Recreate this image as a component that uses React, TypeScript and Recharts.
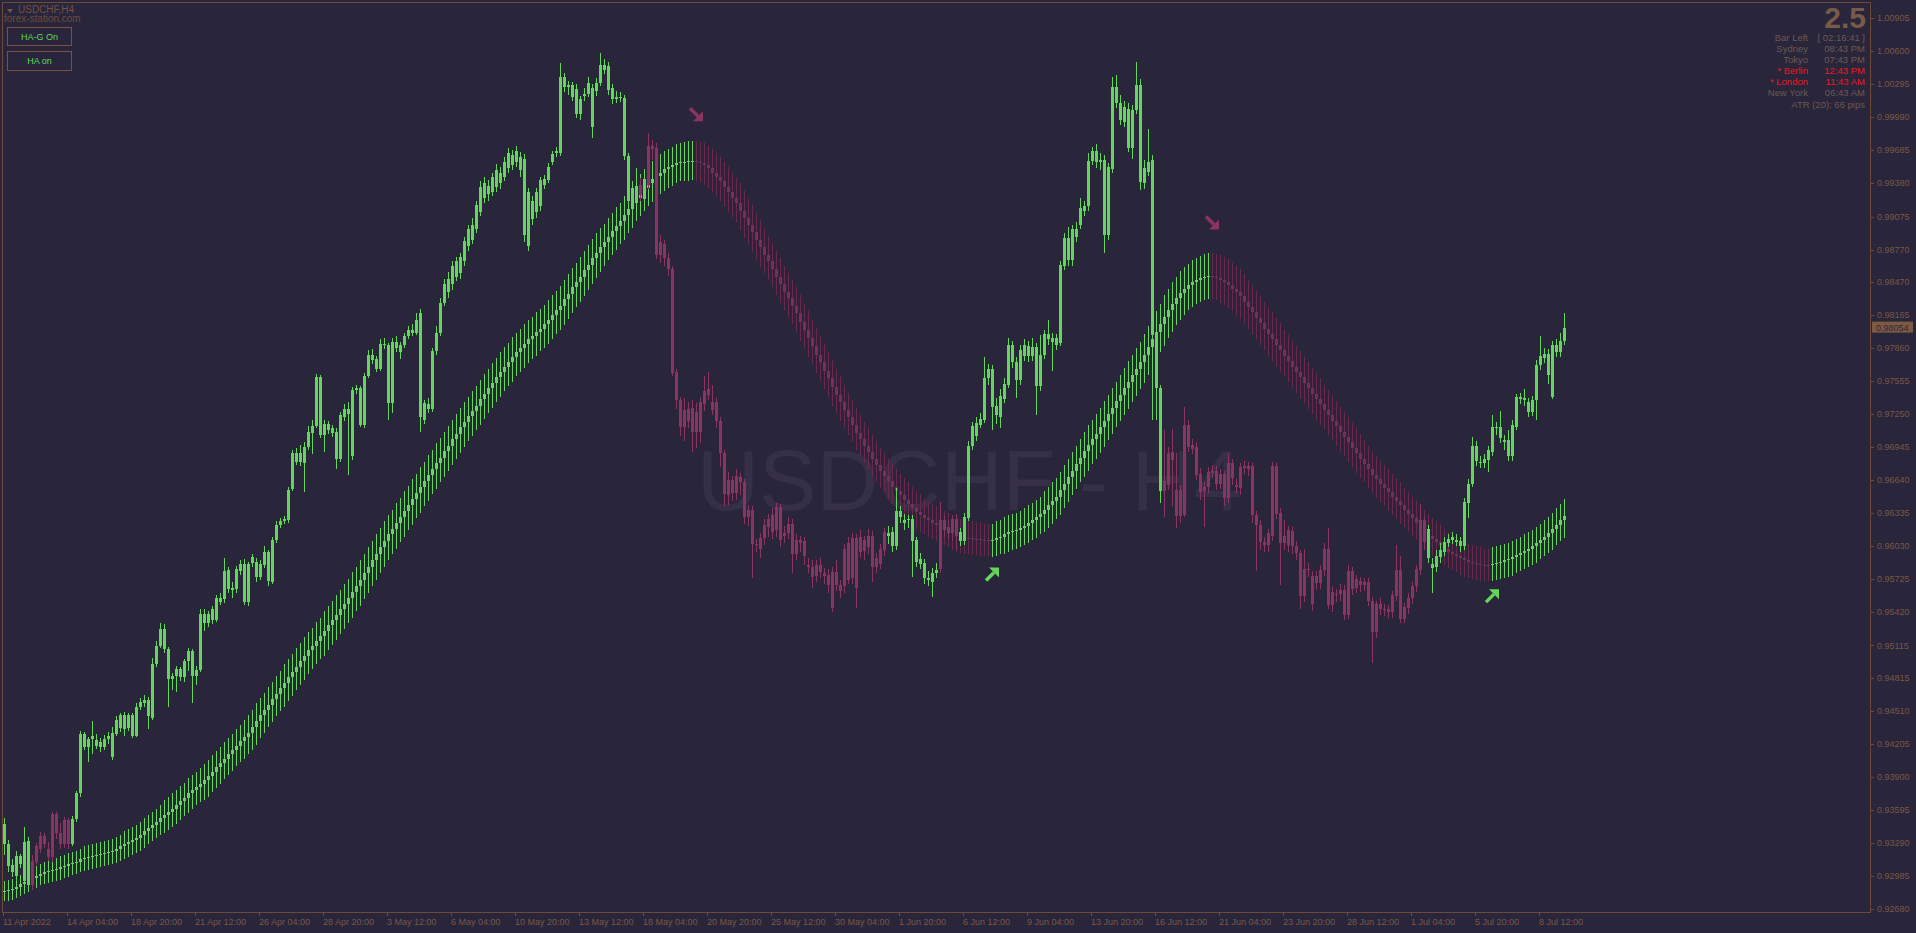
import React from "react";
import { Bar, ComposedChart, ReferenceDot, XAxis, YAxis } from "recharts";

const W = 1916;
const H = 933;
const FONT = '"Liberation Sans", Arial, sans-serif';

const BG = "#29253a";
const GREEN = "#64d65c";
const RED = "#8c3461";
const G_RED = "#7c2c57";
const G_RED_WICK = "#6a284c";
const AXIS = "#6e4a38";
const AXIS_TEXT = "#7a5847";
const PANEL_TEXT = "#6a5a55";
const ALERT = "#ec1a22";

// all prices below are pips above 0.90000
const BASE = 0.9;
const PIP = 0.0001;

// Heikin Ashi price candles
const haOpen = [
  328, 308, 302, 299, 310, 294, 290, 313, 326, 336,
  336, 324, 356, 356, 338, 350, 350, 328, 351, 375,
  418, 418, 425, 419, 418, 418, 425, 409, 430, 435,
  434, 435, 428, 428, 455, 458, 446, 445, 494, 511,
  508, 481, 481, 483, 482, 482, 497, 483, 483, 489,
  532, 532, 535, 535, 552, 554, 564, 563, 564, 580,
  552, 552, 588, 575, 575, 586, 571, 570, 609, 623,
  626, 627, 656, 681, 681, 680, 695, 708, 714, 706,
  706, 710, 708, 684, 684, 722, 725, 686, 747, 715,
  715, 760, 775, 767, 767, 789, 735, 735, 786, 782,
  789, 797, 800, 800, 722, 720, 730, 730, 783, 800,
  828, 838, 845, 852, 855, 866, 880, 886, 896, 912,
  925, 928, 930, 935, 938, 944, 952, 955, 958, 950,
  890, 880, 905, 912, 917, 937, 941, 958, 966, 966,
  1027, 1027, 1018, 1002, 1002, 1019, 1021, 990, 1023, 1031,
  1043, 1024, 1016, 1016, 1017, 963, 922, 920, 925, 937,
  924, 973, 973, 971, 884, 882, 869, 859, 764, 738,
  729, 730, 731, 727, 736, 746, 748, 736, 736, 719,
  689, 664, 664, 668, 667, 662, 637, 637, 605, 611,
  623, 628, 632, 639, 639, 615, 624, 624, 609, 609,
  608, 586, 584, 586, 586, 578, 577, 579, 579, 567,
  601, 606, 611, 611, 612, 609, 613, 613, 592, 601,
  616, 613, 603, 603, 630, 625, 627, 608, 589, 587,
  574, 572, 570, 578, 627, 627, 621, 628, 628, 608,
  608, 629, 696, 705, 715, 720, 758, 732, 724, 722,
  739, 752, 773, 757, 757, 779, 779, 779, 751, 751,
  780, 794, 792, 789, 791, 862, 867, 867, 889, 900,
  913, 917, 959, 958, 958, 890, 890, 951, 1012, 997,
  995, 971, 971, 1006, 939, 938, 949, 798, 749, 654,
  663, 689, 690, 655, 655, 715, 715, 697, 695, 670,
  658, 672, 673, 673, 670, 670, 680, 680, 660, 676,
  677, 677, 677, 632, 623, 607, 615, 677, 677, 634,
  613, 618, 617, 603, 597, 582, 582, 576, 576, 581,
  601, 601, 561, 559, 563, 563, 580, 580, 573, 571,
  570, 570, 553, 550, 550, 545, 545, 558, 581, 581,
  547, 555, 566, 582, 627, 627, 592, 583, 584, 593,
  598, 606, 609, 607, 603, 603, 643, 661, 682, 680,
  680, 683, 690, 712, 703, 699, 686, 686, 713, 739,
  738, 727, 727, 738, 770, 777, 761, 741, 782, 782,
  793,
];

const haHigh = [
  352, 332, 314, 322, 319, 344, 335, 318, 329, 339,
  338, 330, 358, 358, 348, 353, 352, 354, 377, 433,
  432, 427, 442, 430, 426, 429, 432, 436, 446, 449,
  450, 449, 449, 458, 463, 466, 464, 500, 516, 532,
  531, 510, 486, 493, 492, 499, 509, 508, 493, 545,
  545, 543, 548, 558, 560, 592, 584, 570, 585, 590,
  591, 589, 596, 592, 590, 603, 600, 612, 626, 629,
  631, 658, 692, 694, 697, 699, 714, 720, 762, 761,
  720, 719, 715, 712, 727, 734, 736, 750, 752, 751,
  763, 784, 785, 779, 794, 795, 791, 795, 797, 792,
  800, 806, 808, 818, 822, 738, 740, 786, 806, 832,
  850, 856, 866, 870, 874, 889, 900, 906, 922, 940,
  944, 941, 948, 956, 953, 962, 971, 969, 973, 967,
  965, 934, 926, 934, 944, 946, 957, 968, 972, 1049,
  1040, 1033, 1032, 1030, 1019, 1026, 1036, 1030, 1035, 1058,
  1053, 1050, 1030, 1023, 1022, 1020, 966, 940, 952, 943,
  948, 985, 978, 975, 890, 886, 874, 862, 767, 741,
  740, 736, 738, 735, 741, 760, 764, 752, 740, 722,
  692, 672, 668, 674, 671, 665, 641, 640, 610, 615,
  628, 633, 638, 643, 642, 622, 630, 628, 614, 613,
  612, 592, 590, 590, 592, 583, 582, 584, 590, 572,
  605, 612, 615, 614, 618, 613, 619, 617, 597, 605,
  620, 622, 621, 657, 640, 633, 632, 632, 612, 597,
  591, 580, 583, 588, 644, 631, 627, 632, 633, 620,
  634, 700, 718, 722, 726, 778, 771, 770, 740, 748,
  758, 795, 793, 778, 789, 794, 793, 795, 791, 798,
  803, 812, 800, 799, 866, 892, 898, 900, 902, 925,
  922, 966, 972, 974, 966, 964, 957, 1036, 1038, 1020,
  1014, 1012, 1010, 1050, 1034, 960, 988, 964, 802, 752,
  710, 695, 711, 689, 660, 732, 720, 702, 699, 675,
  662, 676, 678, 677, 674, 673, 689, 684, 665, 680,
  682, 681, 680, 636, 627, 612, 619, 681, 680, 638,
  627, 622, 621, 608, 600, 601, 588, 580, 580, 586,
  606, 620, 566, 564, 568, 567, 586, 584, 577, 575,
  574, 574, 556, 553, 555, 550, 549, 562, 604, 594,
  551, 560, 570, 586, 642, 631, 623, 592, 600, 606,
  612, 614, 616, 614, 612, 648, 665, 704, 700, 686,
  688, 696, 724, 718, 728, 706, 710, 720, 744, 745,
  748, 740, 742, 775, 797, 786, 785, 793, 794, 800,
  818,
];

const haLow = [
  318, 302, 298, 296, 306, 291, 288, 286, 309, 320,
  325, 313, 312, 333, 324, 325, 324, 326, 349, 372,
  415, 404, 411, 416, 413, 415, 421, 406, 428, 432,
  428, 433, 426, 427, 452, 455, 434, 443, 492, 509,
  505, 455, 470, 469, 479, 478, 488, 458, 475, 487,
  525, 529, 531, 533, 549, 551, 560, 555, 560, 577,
  549, 548, 584, 570, 572, 583, 566, 568, 606, 620,
  624, 625, 654, 678, 677, 653, 692, 688, 712, 703,
  690, 707, 704, 674, 681, 719, 669, 683, 744, 713,
  712, 758, 771, 764, 765, 785, 720, 726, 782, 776,
  786, 794, 797, 798, 709, 716, 726, 727, 780, 797,
  825, 832, 840, 848, 850, 862, 876, 882, 892, 908,
  920, 922, 926, 930, 933, 940, 948, 950, 953, 944,
  884, 876, 900, 906, 913, 933, 938, 955, 962, 963,
  1022, 1020, 1014, 998, 997, 1014, 1018, 980, 1019, 1028,
  1039, 1020, 1011, 1012, 1013, 960, 918, 915, 921, 922,
  920, 933, 960, 868, 865, 862, 853, 760, 730, 705,
  700, 712, 690, 694, 698, 728, 738, 724, 712, 676,
  640, 641, 645, 646, 650, 624, 622, 574, 598, 592,
  604, 612, 610, 612, 602, 606, 610, 578, 590, 598,
  586, 578, 565, 570, 574, 568, 560, 542, 562, 555,
  560, 568, 568, 546, 592, 590, 596, 570, 578, 582,
  594, 605, 598, 600, 625, 618, 620, 575, 584, 582,
  568, 566, 556, 574, 578, 612, 610, 608, 600, 603,
  604, 626, 692, 700, 712, 717, 752, 710, 716, 712,
  735, 749, 768, 740, 752, 774, 773, 774, 724, 746,
  776, 789, 765, 784, 788, 858, 862, 862, 884, 896,
  908, 913, 955, 952, 950, 874, 886, 948, 1008, 992,
  990, 967, 961, 1002, 932, 933, 945, 720, 720, 643,
  630, 655, 640, 620, 625, 630, 690, 688, 664, 646,
  621, 652, 666, 655, 656, 640, 643, 660, 652, 650,
  670, 668, 625, 580, 600, 598, 598, 608, 628, 567,
  600, 598, 596, 590, 545, 552, 575, 543, 563, 564,
  576, 545, 542, 552, 553, 535, 536, 558, 560, 561,
  562, 548, 495, 518, 540, 539, 537, 537, 553, 532,
  532, 541, 550, 561, 577, 600, 588, 560, 579, 588,
  594, 602, 605, 603, 598, 600, 629, 658, 677, 675,
  675, 672, 686, 706, 698, 692, 682, 682, 710, 734,
  733, 722, 723, 720, 766, 772, 753, 739, 778, 778,
  789,
];

const haClose = [
  347, 328, 309, 317, 317, 330, 331, 290, 312, 324,
  328, 316, 316, 338, 328, 328, 328, 351, 375, 430,
  430, 425, 428, 424, 422, 425, 428, 431, 443, 447,
  447, 447, 447, 455, 459, 461, 461, 494, 511, 527,
  527, 508, 483, 490, 490, 497, 506, 506, 489, 541,
  541, 541, 545, 555, 555, 580, 581, 565, 582, 587,
  587, 587, 593, 589, 587, 598, 598, 609, 623, 626,
  628, 655, 689, 689, 689, 695, 709, 714, 759, 759,
  716, 716, 712, 709, 724, 730, 730, 747, 749, 749,
  760, 780, 780, 776, 790, 790, 789, 792, 792, 789,
  797, 803, 803, 812, 818, 735, 734, 783, 800, 828,
  845, 850, 862, 866, 870, 885, 896, 900, 918, 935,
  938, 936, 944, 950, 948, 958, 966, 964, 968, 962,
  961, 930, 922, 930, 941, 942, 953, 965, 968, 1036,
  1036, 1029, 1029, 1025, 1016, 1021, 1031, 1026, 1031, 1047,
  1047, 1046, 1026, 1018, 1018, 1017, 963, 934, 936, 927,
  942, 937, 970, 872, 872, 869, 859, 763, 738, 713,
  713, 719, 709, 709, 709, 734, 743, 729, 719, 689,
  651, 650, 652, 652, 662, 630, 630, 605, 604, 601,
  611, 621, 616, 618, 609, 613, 615, 596, 596, 606,
  594, 584, 575, 576, 579, 576, 567, 546, 567, 562,
  566, 572, 574, 565, 598, 599, 602, 584, 584, 587,
  600, 615, 616, 636, 636, 627, 628, 628, 609, 591,
  588, 574, 578, 581, 582, 618, 615, 615, 613, 616,
  630, 696, 714, 717, 721, 758, 767, 767, 733, 742,
  753, 789, 789, 773, 784, 789, 788, 787, 787, 780,
  799, 799, 795, 795, 863, 888, 888, 896, 896, 915,
  917, 959, 968, 968, 960, 960, 953, 1027, 1027, 1012,
  1009, 1007, 1006, 1029, 1029, 952, 958, 960, 798, 749,
  654, 660, 683, 631, 631, 632, 695, 693, 669, 653,
  654, 658, 671, 661, 661, 648, 648, 666, 658, 657,
  675, 674, 632, 623, 607, 604, 604, 613, 633, 606,
  606, 604, 603, 597, 557, 557, 581, 550, 569, 569,
  581, 549, 549, 558, 559, 540, 540, 564, 565, 567,
  567, 553, 524, 524, 545, 544, 542, 542, 557, 536,
  536, 546, 555, 566, 581, 607, 619, 587, 594, 600,
  607, 610, 612, 609, 608, 644, 661, 696, 696, 681,
  684, 692, 713, 713, 713, 701, 701, 715, 741, 741,
  740, 736, 738, 770, 779, 781, 781, 789, 789, 793,
  805,
];

// HA-G smoothed candles: close of each bar (body runs from the previous close)
const gClose = [
  285, 286, 287, 289, 291, 293, 295, 297, 299, 301,
  302, 303, 304, 305, 307, 308, 310, 311, 312, 314,
  315, 316, 317, 318, 319, 320, 321, 322, 324, 326,
  328, 330, 332, 334, 337, 340, 343, 346, 349, 352,
  355, 358, 361, 364, 368, 371, 375, 378, 381, 384,
  387, 391, 395, 399, 403, 407, 411, 415, 419, 423,
  427, 431, 436, 442, 447, 452, 457, 462, 467, 472,
  477, 482, 487, 492, 497, 502, 507, 511, 516, 520,
  525, 530, 535, 540, 545, 550, 555, 561, 566, 572,
  578, 584, 590, 596, 602, 608, 614, 619, 625, 630,
  636, 641, 647, 652, 658, 663, 669, 674, 680, 685,
  691, 696, 702, 707, 713, 718, 723, 728, 733, 739,
  744, 749, 754, 759, 764, 769, 773, 778, 782, 786,
  790, 794, 797, 801, 804, 808, 812, 817, 821, 825,
  831, 836, 842, 847, 852, 858, 863, 869, 874, 879,
  884, 889, 894, 899, 903, 909, 914, 920, 925, 930,
  934, 938, 942, 945, 948, 951, 953, 955, 957, 958,
  958, 959, 959, 958, 957, 955, 952, 948, 944, 940,
  935, 930, 925, 920, 913, 906, 900, 893, 886, 879,
  872, 866, 859, 852, 845, 838, 832, 825, 818, 810,
  803, 795, 788, 780, 773, 765, 758, 750, 743, 736,
  729, 722, 715, 708, 702, 696, 690, 684, 678, 673,
  668, 663, 658, 654, 650, 646, 642, 638, 635, 632,
  629, 627, 625, 623, 621, 619, 617, 615, 613, 612,
  611, 611, 610, 610, 609, 609, 608, 609, 611, 612,
  614, 616, 617, 618, 620, 622, 625, 627, 630, 633,
  637, 641, 645, 649, 655, 661, 667, 673, 679, 685,
  691, 697, 702, 707, 713, 719, 725, 731, 737, 743,
  749, 755, 761, 767, 773, 780, 787, 794, 801, 808,
  815, 821, 827, 832, 837, 841, 844, 847, 849, 851,
  852, 853, 852, 851, 849, 847, 844, 841, 838, 834,
  829, 824, 819, 814, 809, 804, 799, 794, 789, 784,
  779, 774, 769, 764, 759, 754, 749, 744, 739, 734,
  729, 724, 719, 714, 709, 704, 699, 694, 689, 684,
  679, 674, 669, 665, 661, 657, 653, 649, 645, 641,
  637, 633, 629, 625, 621, 617, 613, 610, 607, 604,
  601, 598, 596, 594, 592, 590, 589, 588, 587, 586,
  586, 586, 587, 588, 589, 590, 591, 593, 595, 597,
  599, 601, 603, 606, 609, 612, 615, 619, 623, 627,
  631,
];

// HA-G wick length beyond the body, one value per block of 10 bars
const gWick = [
  9, 10, 11, 12, 14, 15, 16, 17, 18, 18,
  18, 18, 18, 18, 18, 17, 17, 18, 18, 17,
  17, 16, 16, 15, 15, 16, 17, 18, 19, 20,
  21, 20, 19, 18, 17, 16, 15, 15, 15, 16,
];

const xLabels = [
  "11 Apr 2022", "14 Apr 04:00", "18 Apr 20:00", "21 Apr 12:00", "26 Apr 04:00",
  "28 Apr 20:00", "3 May 12:00", "6 May 04:00", "10 May 20:00", "13 May 12:00",
  "18 May 04:00", "20 May 20:00", "25 May 12:00", "30 May 04:00", "1 Jun 20:00",
  "6 Jun 12:00", "9 Jun 04:00", "13 Jun 20:00", "16 Jun 12:00", "21 Jun 04:00",
  "23 Jun 20:00", "28 Jun 12:00", "1 Jul 04:00", "5 Jul 20:00", "8 Jul 12:00",
];
const BARS_PER_LABEL = 16;

const yTicks = [
  1.00905, 1.006, 1.00295, 0.9999, 0.99685, 0.9938, 0.99075, 0.9877, 0.9847,
  0.98165, 0.9786, 0.97555, 0.9725, 0.96945, 0.9664, 0.96335, 0.9603, 0.95725,
  0.9542, 0.95115, 0.94815, 0.9451, 0.94205, 0.939, 0.93595, 0.9329, 0.92985,
  0.9268,
];
const lastPrice = 0.98054;

// signal arrows of the HA-G indicator
const arrowBar = [173, 302, 247, 372];
const arrowPips = [1001, 901, 578, 558];
const arrowUp = [false, false, true, true];

const SLOTS = 467;
const toPrice = (v: number) => BASE + v * PIP;

type Row = {
  i: number;
  o?: number;
  h?: number;
  l?: number;
  c?: number;
  go?: number;
  gc?: number;
  gh?: number;
  gl?: number;
  gUp?: boolean;
  lo?: number;
  hi?: number;
};

const rows: Row[] = [];
let rising = true;
for (let i = 0; i < SLOTS; i++) {
  if (i >= haClose.length) {
    rows.push({ i });
    continue;
  }
  const gc = gClose[i];
  const go = i > 0 ? gClose[i - 1] : gClose[0];
  if (gc > go) rising = true;
  else if (gc < go) rising = false;
  const w = gWick[Math.floor(i / 10)];
  const gh = Math.max(go, gc) + w;
  const gl = Math.min(go, gc) - w;
  rows.push({
    i,
    o: toPrice(haOpen[i]),
    h: toPrice(haHigh[i]),
    l: toPrice(haLow[i]),
    c: toPrice(haClose[i]),
    go: toPrice(go),
    gc: toPrice(gc),
    gh: toPrice(gh),
    gl: toPrice(gl),
    gUp: rising,
    lo: toPrice(Math.min(haLow[i], gl)),
    hi: toPrice(Math.max(haHigh[i], gh)),
  });
}

const xTicks = xLabels.map((_, k) => k * BARS_PER_LABEL);

function Candles(props: any) {
  const { x, y, width, height, payload } = props;
  if (!payload || payload.c === undefined) return null;
  const top = Math.min(y, y + height);
  const span = Math.abs(height);
  const { hi, lo } = payload;
  const py = (v: number) => top + ((hi - v) / (hi - lo)) * span;
  const cx = Math.round(x + width / 2);

  const gTop = py(Math.max(payload.go, payload.gc));
  const gBot = py(Math.min(payload.go, payload.gc));
  const gBody = payload.gUp ? GREEN : G_RED;
  const gStick = payload.gUp ? GREEN : G_RED_WICK;

  const col = payload.c >= payload.o ? GREEN : RED;
  const bTop = py(Math.max(payload.o, payload.c));
  const bBot = py(Math.min(payload.o, payload.c));

  return (
    <g shapeRendering="crispEdges">
      <rect x={cx} y={py(payload.gh)} width={1} height={py(payload.gl) - py(payload.gh)} fill={gStick} />
      <rect x={cx - 1} y={gTop} width={3} height={Math.max(1, gBot - gTop)} fill={gBody} />
      <rect x={cx} y={py(payload.h)} width={1} height={py(payload.l) - py(payload.h)} fill={col} />
      <rect x={cx - 1} y={bTop} width={3} height={Math.max(1, bBot - bTop)} fill={col} />
    </g>
  );
}

function XTick(props: any) {
  const { x, payload } = props;
  const label = xLabels[Math.round(payload.value / BARS_PER_LABEL)];
  return (
    <g>
      <rect x={Math.round(x) - 1} y={912} width={1} height={4} fill={AXIS} shapeRendering="crispEdges" />
      <text x={Math.round(x) - 1} y={925} fontSize={9} fontFamily={FONT} fill={AXIS_TEXT}>
        {label}
      </text>
    </g>
  );
}

function YTick(props: any) {
  const { y, payload } = props;
  const v = payload.value as number;
  if (Math.abs(v - lastPrice) < 1e-7) {
    return (
      <g>
        <rect x={1872} y={y - 5.5} width={41} height={11} fill="#7d5a44" />
        <text x={1876} y={y + 3.5} fontSize={9} fontFamily={FONT} fill="#2f2632">
          {v.toFixed(5)}
        </text>
      </g>
    );
  }
  return (
    <g>
      <rect x={1871} y={Math.round(y)} width={3} height={1} fill={AXIS} shapeRendering="crispEdges" />
      <text x={1877} y={y + 3} fontSize={9} fontFamily={FONT} fill={AXIS_TEXT}>
        {v.toFixed(5)}
      </text>
    </g>
  );
}

function Arrow({ cx, cy, up }: { cx?: number; cy?: number; up: boolean }) {
  if (cx === undefined || cy === undefined) return null;
  const s = up ? -1 : 1;
  const col = up ? GREEN : RED;
  return (
    <g transform={`translate(${cx},${cy})`}>
      <line x1={-6} y1={-7 * s} x2={2} y2={1 * s} stroke={col} strokeWidth={3.5} />
      <polygon points={`7,${6 * s} -3,${6 * s} 7,${-4 * s}`} fill={col} />
    </g>
  );
}

const infoRows = [
  { name: "Bar Left", value: "[ 02:16:41 ]", alert: false },
  { name: "Sydney", value: "08:43 PM", alert: false },
  { name: "Tokyo", value: "07:43 PM", alert: false },
  { name: "* Berlin", value: "12:43 PM", alert: true },
  { name: "* London", value: "11:43 AM", alert: true },
  { name: "New York", value: "06:43 AM", alert: false },
];

export default function App() {
  return (
    <div
      style={{
        position: "absolute",
        left: 0,
        top: 0,
        width: W,
        height: H,
        background: BG,
        overflow: "hidden",
        fontFamily: FONT,
      }}
    >
      <svg width={W} height={H} style={{ position: "absolute", left: 0, top: 0 }}>
        <text x={697} y={510} fontSize={86} fontFamily={FONT} fill="#353047">
          USDCHF - H4
        </text>
      </svg>

      <div style={{ position: "absolute", left: 0, top: 0 }}>
        <ComposedChart
          width={W}
          height={H}
          data={rows}
          margin={{ top: 2, right: 0, bottom: 0, left: 2 }}
          barCategoryGap={0}
          barGap={0}
        >
          <XAxis
            dataKey="i"
            type="category"
            ticks={xTicks}
            interval={0}
            height={21}
            axisLine={false}
            tickLine={false}
            tick={<XTick />}
          />
          <YAxis
            orientation="right"
            width={46}
            domain={[0.92655, 1.01055]}
            allowDataOverflow
            ticks={[...yTicks, lastPrice]}
            interval={0}
            axisLine={false}
            tickLine={false}
            tick={<YTick />}
          />
          <Bar
            dataKey={(d: Row) => (d.c === undefined ? null : [d.lo, d.hi])}
            shape={<Candles />}
            isAnimationActive={false}
          />
          {arrowBar.map((b, k) => (
            <ReferenceDot
              key={k}
              x={b}
              y={toPrice(arrowPips[k])}
              r={0}
              ifOverflow="visible"
              shape={(p: any) => <Arrow cx={p.cx} cy={p.cy} up={arrowUp[k]} />}
            />
          ))}
        </ComposedChart>
      </div>

      <svg width={W} height={H} style={{ position: "absolute", left: 0, top: 0, pointerEvents: "none" }} shapeRendering="crispEdges">
        <rect x={2} y={2} width={1} height={911} fill={AXIS} />
        <rect x={2} y={2} width={1869} height={1} fill={AXIS} />
        <rect x={1870} y={2} width={1} height={911} fill={AXIS} />
        <rect x={2} y={912} width={1869} height={1} fill={AXIS} />
        <polygon points="7,9 13,9 10,13" fill="#7a5444" shapeRendering="auto" />
      </svg>

      <div style={{ position: "absolute", left: 18, top: 4, fontSize: 10, color: "#735244", lineHeight: "12px" }}>
        USDCHF,H4
      </div>
      <div style={{ position: "absolute", left: 4, top: 13, fontSize: 10, color: "#6c4c40", lineHeight: "12px" }}>
        forex-station.com
      </div>

      {["HA-G On", "HA on"].map((t, k) => (
        <div
          key={t}
          style={{
            position: "absolute",
            left: 7,
            top: k === 0 ? 27 : 51,
            width: 65,
            height: k === 0 ? 19 : 20,
            boxSizing: "border-box",
            border: "1px solid #7a5040",
            color: GREEN,
            fontSize: 9,
            display: "flex",
            alignItems: "center",
            justifyContent: "center",
          }}
        >
          {t}
        </div>
      ))}

      <div
        style={{
          position: "absolute",
          right: W - 1866,
          top: 1,
          fontSize: 30,
          fontWeight: "bold",
          color: "#785a48",
          lineHeight: "34px",
        }}
      >
        2.5
      </div>
      {infoRows.map((r, k) => (
        <React.Fragment key={r.name}>
          <div
            style={{
              position: "absolute",
              right: W - 1808,
              top: 32 + k * 11,
              fontSize: 9.5,
              lineHeight: "12px",
              color: r.alert ? ALERT : PANEL_TEXT,
              whiteSpace: "nowrap",
            }}
          >
            {r.name}
          </div>
          <div
            style={{
              position: "absolute",
              right: W - 1865,
              top: 32 + k * 11,
              fontSize: 9.5,
              lineHeight: "12px",
              color: r.alert ? ALERT : PANEL_TEXT,
              whiteSpace: "nowrap",
            }}
          >
            {r.value}
          </div>
        </React.Fragment>
      ))}
      <div
        style={{
          position: "absolute",
          right: W - 1865,
          top: 99,
          fontSize: 9.5,
          lineHeight: "12px",
          color: PANEL_TEXT,
          whiteSpace: "nowrap",
        }}
      >
        ATR (20): 66 pips
      </div>
    </div>
  );
}
